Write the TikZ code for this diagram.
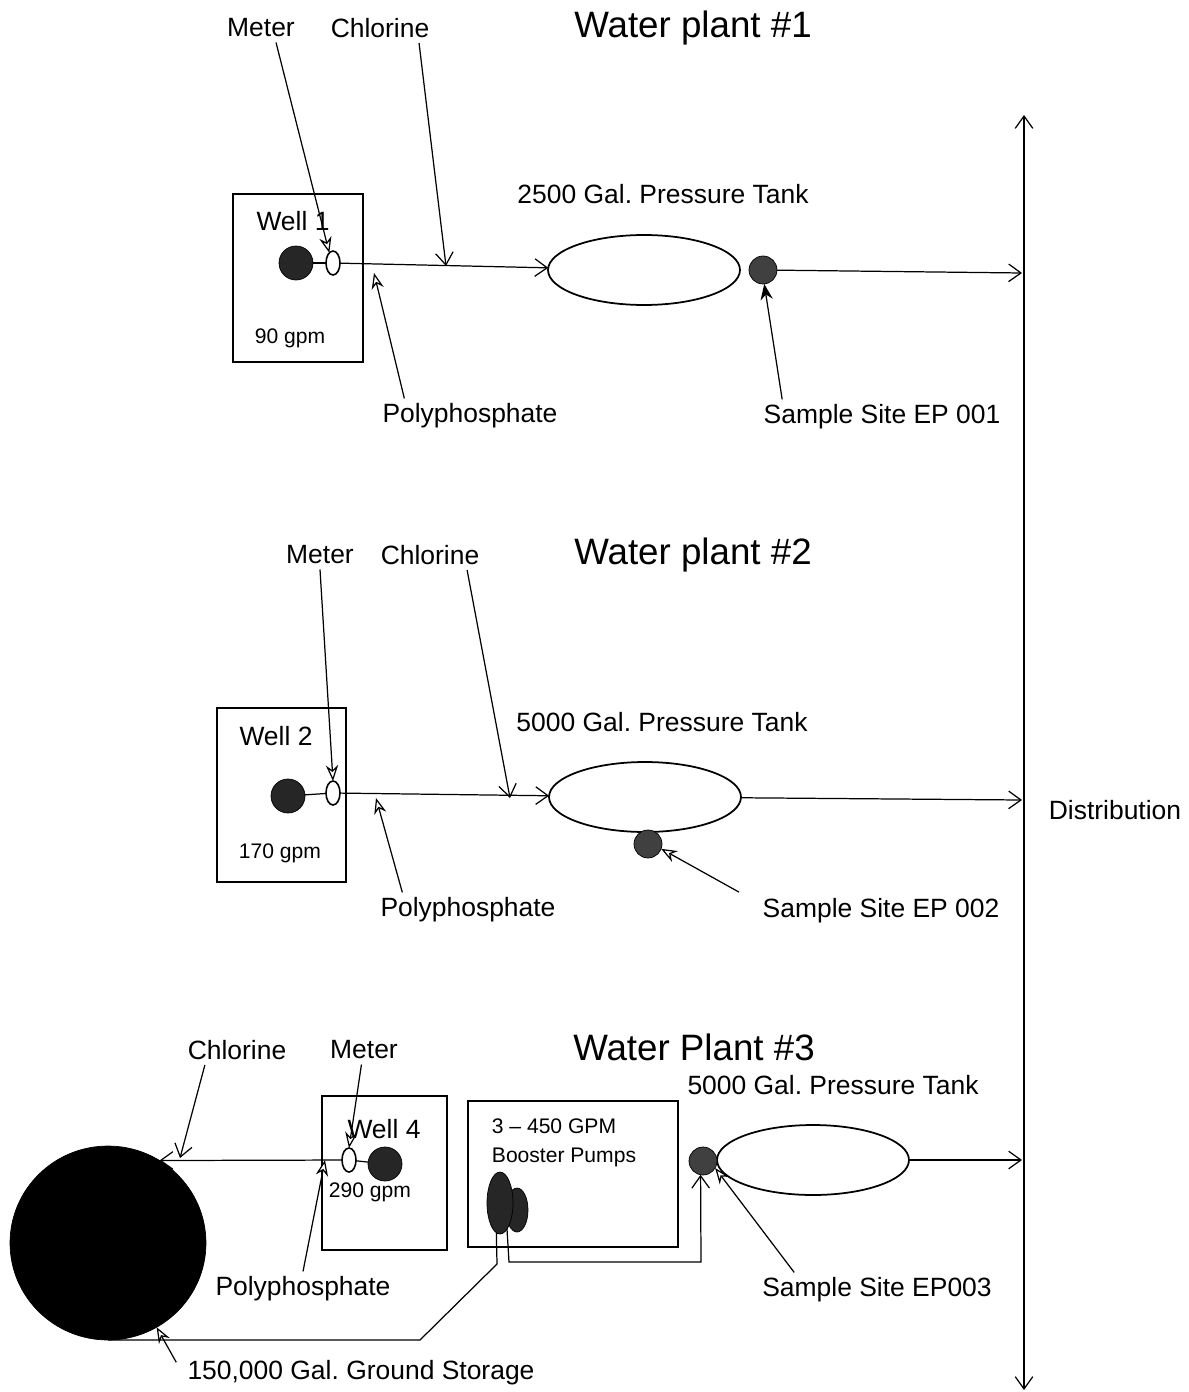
\documentclass[tikz,border=0pt]{standalone}
\usepackage{fontspec}
\setmainfont{Liberation Sans}
\usetikzlibrary{arrows.meta,shapes.geometric}
\frenchspacing

\begin{document}
\begin{tikzpicture}[x=0.02cm,y=-0.02cm,
  >={Straight Barb[length=7pt,width=10pt]},
  every node/.style={font=\fontsize{15.05}{17}\selectfont,align=center,inner sep=0pt,outer sep=3pt},
  title/.style={font=\fontsize{20.9}{24}\selectfont},
  small/.style={font=\fontsize{12}{14}\selectfont},
  wellbox/.style={draw,rectangle,line width=1.5pt,outer sep=0pt},
  pumpdot/.style={draw,circle,fill=black!85,minimum size=0.68cm,outer sep=0pt},
  sampledot/.style={draw,circle,fill=black!75,minimum size=0.56cm,outer sep=0pt},
  meterring/.style={draw,ellipse,line width=0.9pt,minimum width=0.28cm,minimum height=0.48cm,outer sep=0pt},
  tank/.style={draw,ellipse,line width=1pt,minimum width=3.84cm,minimum height=1.4cm,outer sep=0pt},
  pipe/.style={line width=0.7pt},
  callout/.style={line width=0.7pt,-{Stealth[fill=white,length=9pt,width=7pt]}},
  pointer/.style={line width=0.7pt,-{Stealth[fill=black,length=9pt,width=7pt]}}]
\useasboundingbox (0,0) rectangle (1189,1392);

\coordinate (distTop) at (1024,115);
\coordinate (distBottom) at (1024,1390);
\draw[pipe,<->] (distTop) -- (distBottom);
\node (dist) at (1115,810) {Distribution};

\node[title] (titleA) at (693,28) {Water plant \#1};
\node (meterlabA) at (261,28) {Meter};
\node (chlorlabA) at (380,28) {Chlorine};
\node (tanklabA) at (663,194) {2500 Gal. Pressure Tank};
\node[wellbox,minimum width=2.6cm,minimum height=3.36cm] (wellA) at (298,278) {};
\node (wellnameA) at (293,221) {Well 1};
\node[small] (rateA) at (290,338) {90 gpm};
\node[pumpdot] (pumpA) at (296,263) {};
\node[meterring] (meterA) at (333,263) {};
\node[tank] (tankA) at (644,270) {};
\node[sampledot] (dotA) at (763,270) {};
\node (polylabA) at (470,416) {Polyphosphate};
\node (samplelabA) at (882,417) {Sample Site EP 001};
\coordinate (endA) at (1022,273);
\coordinate (chlorA) at (446,266);
\coordinate (polyA) at (374,273);
\draw[pipe] (pumpA) -- (meterA);
\draw[pipe,->] (meterA) -- (tankA);
\draw[pipe,->] (dotA) -- (endA);
\draw[callout] (meterlabA.-44) -- (meterA.110);
\draw[pipe,->] (chlorlabA.-21) -- (chlorA);
\draw[callout] (polylabA.165) -- (polyA);
\draw[pointer] (samplelabA.170) -- (dotA.-85);

\node[title] (titleB) at (693,555) {Water plant \#2};
\node (meterlabB) at (320,555) {Meter};
\node (chlorlabB) at (430,555) {Chlorine};
\node (tanklabB) at (662,722) {5000 Gal. Pressure Tank};
\node[wellbox,minimum width=2.58cm,minimum height=3.48cm] (wellB) at (281.5,795) {};
\node (wellnameB) at (276,736) {Well 2};
\node[small] (rateB) at (280,853) {170 gpm};
\node[pumpdot] (pumpB) at (288,796) {};
\node[meterring] (meterB) at (333,793) {};
\node[tank] (tankB) at (645,797) {};
\node[sampledot] (dotB) at (648,844) {};
\node (polylabB) at (468,910) {Polyphosphate};
\node (samplelabB) at (881,911) {Sample Site EP 002};
\coordinate (endB) at (1022,800);
\coordinate (chlorB) at (510,798);
\coordinate (polyB) at (376,798);
\draw[pipe] (pumpB) -- (meterB);
\draw[pipe,->] (meterB) -- (tankB);
\draw[pipe,->] (tankB) -- (endB);
\draw[callout] (meterlabB.south) -- (meterB.north);
\draw[pipe,->] (chlorlabB.-22) -- (chlorB);
\draw[callout] (polylabB.165) -- (polyB);
\draw[callout,shorten <=12pt] (samplelabB.176) -- (dotB.-20);

\node[title] (titleC) at (694,1047) {Water Plant \#3};
\node (chlorlabC) at (237,1050) {Chlorine};
\node (meterlabC) at (364,1050) {Meter};
\node (tanklabC) at (833,1085) {5000 Gal. Pressure Tank};
\node[draw,ellipse,fill=black,minimum width=3.92cm,minimum height=3.88cm,outer sep=0pt] (storage) at (108,1243) {};
\node[wellbox,minimum width=2.5cm,minimum height=3.08cm] (wellC) at (384.5,1173) {};
\node (wellnameC) at (384,1129) {Well 4};
\node[small] (rateC) at (370,1192) {290 gpm};
\node[meterring] (meterC) at (349,1160) {};
\node[pumpdot] (pumpC) at (385,1164) {};
\node[wellbox,minimum width=4.2cm,minimum height=2.92cm] (boosterbox) at (573,1174) {};
\node[small] (boostA) at (554,1126) {3 – 450 GPM};
\node[small] (boostB) at (564,1157) {Booster Pumps};
\node[draw,ellipse,fill=black!85,minimum width=0.44cm,minimum height=0.88cm,outer sep=0pt] (boostR) at (517,1210) {};
\node[draw,ellipse,fill=black!85,minimum width=0.52cm,minimum height=1.24cm,outer sep=0pt] (boostL) at (500,1203) {};
\node[tank] (tankC) at (813,1160) {};
\node[sampledot] (dotC) at (703,1161) {};
\node (polylabC) at (303,1289) {Polyphosphate};
\node (samplelabC) at (877,1290) {Sample Site EP003};
\node (storelab) at (361,1373) {150,000 Gal. Ground Storage};
\coordinate (endC) at (1022,1160);
\coordinate (polyC) at (325,1160);
\coordinate (chlorC) at (180,1158);
\coordinate (bendA) at (497,1264);
\coordinate (bendB) at (420,1340);
\coordinate (bendC) at (509,1262);
\coordinate (bendD) at (701,1262);
\draw[pipe] (pumpC) -- (meterC);
\draw[pipe,->] (meterC) -- (storage.58);
\draw[pipe] (boostL.-97) -- (bendA) -- (bendB) -- (storage.south);
\draw[pipe,->] (boostL.-75) -- (bendC) -- (bendD) -- (dotC.-100);
\draw[pipe,->] (tankC) -- (endC);
\draw[callout] (meterlabC.-100) -- (meterC.north);
\draw[pipe,->] (chlorlabC.-155) -- (chlorC);
\draw[callout] (polylabC.north) -- (polyC);
\draw[callout] (samplelabC.168) -- (dotC.-30);
\draw[callout,shorten <=7pt] (storelab.west) -- (storage.-60);
\end{tikzpicture}
\end{document}
